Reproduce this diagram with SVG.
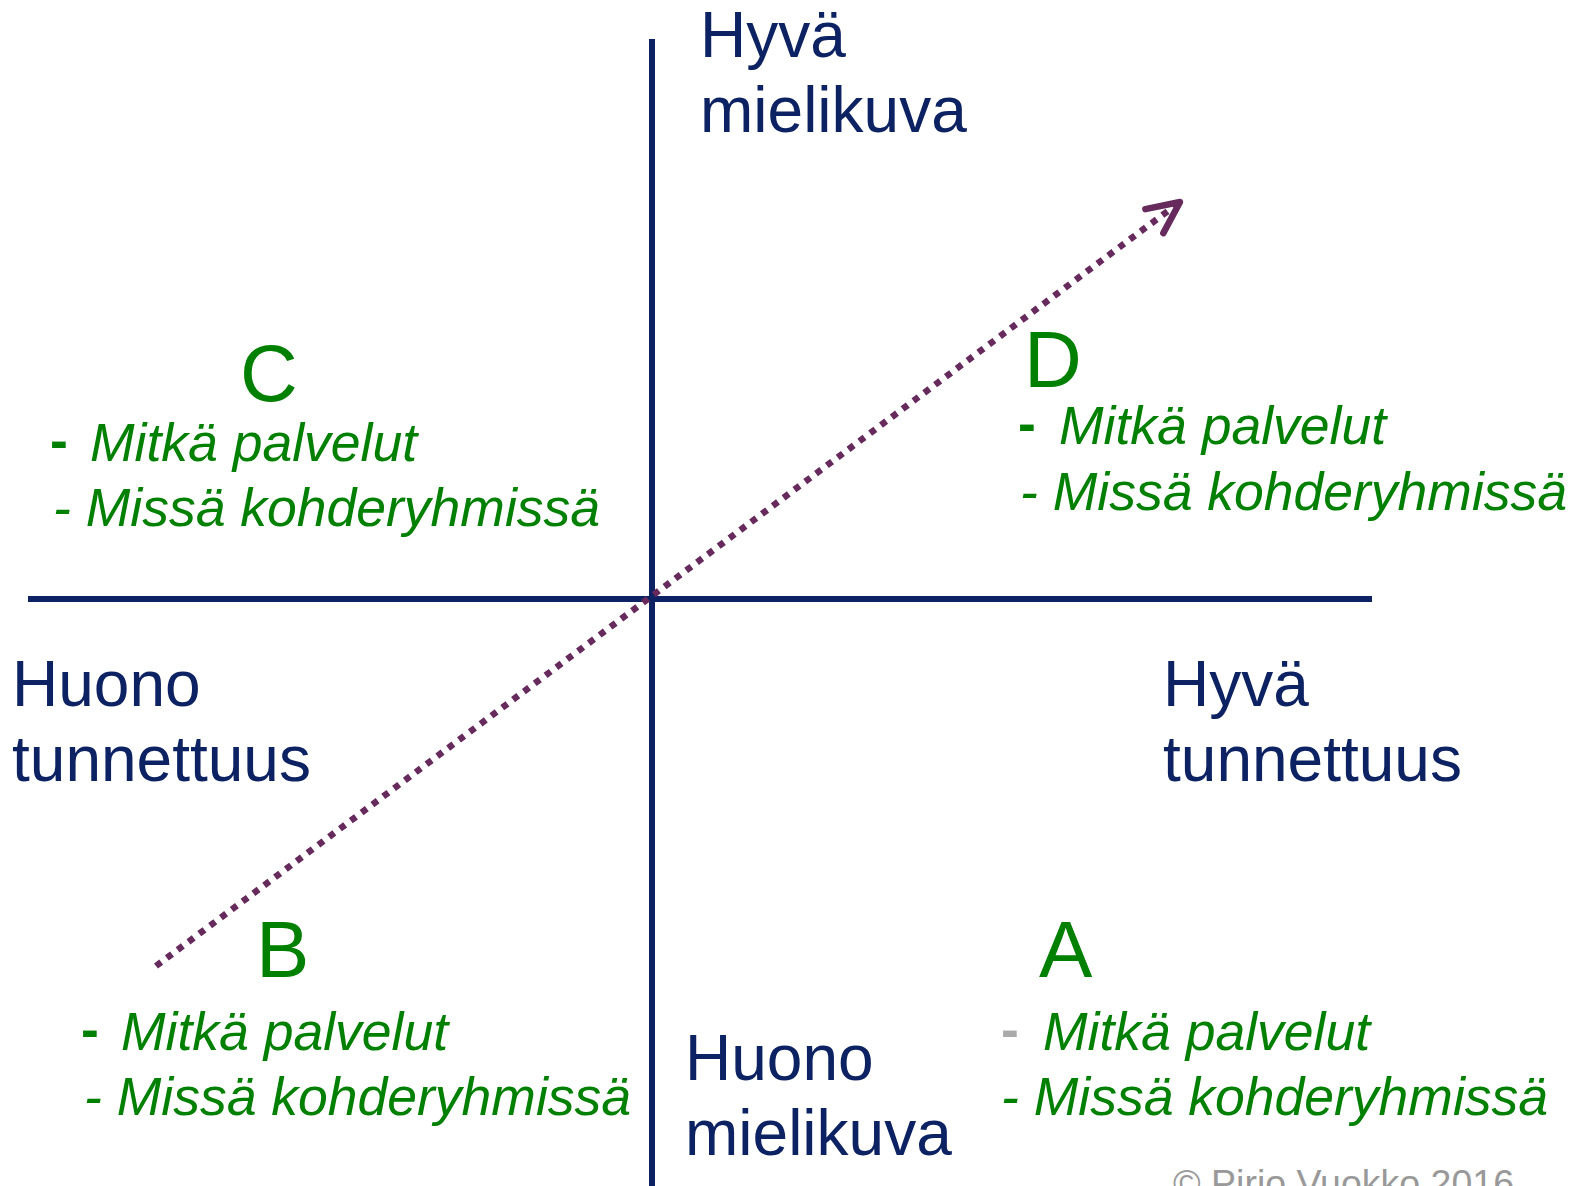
<svg xmlns="http://www.w3.org/2000/svg" width="1573" height="1186" viewBox="0 0 1573 1186">
<style>
.axis{stroke:#0c2262;stroke-width:6;fill:none}
.lbl{font-family:"Liberation Sans",Arial,sans-serif;font-size:64px;fill:#0c2262}
.let{font-family:"Liberation Sans",Arial,sans-serif;font-size:80px;fill:#008000}
.it{font-family:"Liberation Sans",Arial,sans-serif;font-size:53.5px;font-style:italic;fill:#008000}
.dash{font-family:"Liberation Sans",Arial,sans-serif;font-size:53.5px;font-weight:bold;fill:#008000}
.copy{font-family:"Liberation Sans",Arial,sans-serif;font-size:37.5px;fill:#999999}
</style>
<defs>
<marker id="arr" markerUnits="userSpaceOnUse" markerWidth="60" markerHeight="60" refX="0" refY="0" viewBox="-40 -30 50 60" orient="auto" overflow="visible">
<path d="M -32 -15 L 0 0 L -32 15" fill="none" stroke="#662a5c" stroke-width="6.5" stroke-linecap="round" stroke-linejoin="round"/>
</marker>
</defs>
<rect width="1573" height="1186" fill="#ffffff"/>
<g id="axes">
<line class="axis" x1="652" y1="39" x2="652" y2="1186"/>
<line class="axis" x1="28" y1="599" x2="1372" y2="599"/>
</g>
<g id="connectors">
<line x1="156" y1="966" x2="1180" y2="202" stroke="#662a5c" stroke-width="6.5" stroke-dasharray="6.5 7" marker-end="url(#arr)"/>
</g>
<g id="top-label">
<text class="lbl" x="700" y="57">Hyvä</text>
<text class="lbl" x="700" y="132">mielikuva</text>
</g>
<g id="left-label">
<text class="lbl" x="12" y="706">Huono</text>
<text class="lbl" x="12" y="781">tunnettuus</text>
</g>
<g id="right-label">
<text class="lbl" x="1163" y="706">Hyvä</text>
<text class="lbl" x="1163" y="781">tunnettuus</text>
</g>
<g id="bottom-label">
<text class="lbl" x="685" y="1080">Huono</text>
<text class="lbl" x="685" y="1155">mielikuva</text>
</g>
<g id="node-C">
<text class="let" x="240" y="401">C</text>
<text class="dash" x="50" y="459">-</text>
<text class="it" x="90" y="461">Mitkä palvelut</text>
<text class="it" x="53" y="526">- Missä kohderyhmissä</text>
</g>
<g id="node-D">
<text class="let" x="1024" y="387">D</text>
<text class="dash" x="1018" y="442">-</text>
<text class="it" x="1059" y="444">Mitkä palvelut</text>
<text class="it" x="1020" y="510">- Missä kohderyhmissä</text>
</g>
<g id="node-B">
<text class="let" x="256" y="977">B</text>
<text class="dash" x="81" y="1048">-</text>
<text class="it" x="121" y="1050">Mitkä palvelut</text>
<text class="it" x="84" y="1115">- Missä kohderyhmissä</text>
</g>
<g id="node-A">
<text class="let" x="1039" y="977">A</text>
<text class="dash" x="1001" y="1048" style="fill:#aaaaaa">-</text>
<text class="it" x="1043" y="1050">Mitkä palvelut</text>
<text class="it" x="1001" y="1115">- Missä kohderyhmissä</text>
</g>
<text class="copy" x="1173" y="1196">© Pirjo Vuokko 2016</text>
</svg>
